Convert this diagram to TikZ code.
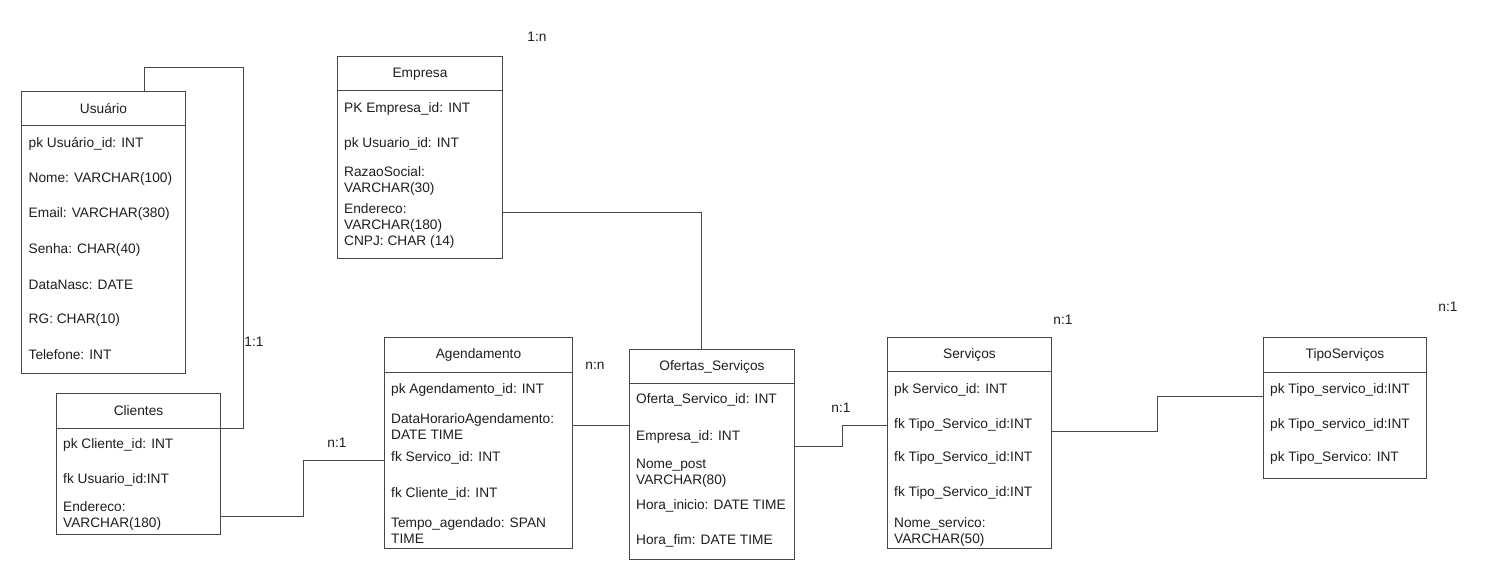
\documentclass[tikz,border=0pt]{standalone}
\usepackage{fontspec}
\setmainfont{Liberation Sans}
\begin{document}
\begin{tikzpicture}[x=1pt,y=-1pt,
  tbl/.style={draw=black!72, line width=1pt, fill=white, anchor=north west, inner sep=0pt},
  tblline/.style={draw=black!72, line width=1pt},
  conn/.style={draw=black!72, line width=1pt},
  titletxt/.style={inner sep=0pt, text=black!88, font=\fontsize{13.7}{16}\selectfont},
  fieldtxt/.style={inner sep=0pt, anchor=west, align=left, text=black!88, font=\fontsize{13.7}{16}\selectfont},
  cardtxt/.style={inner sep=0pt, text=black!88, font=\fontsize{13.7}{16}\selectfont}]
\newcommand\tblhead[2]{\draw[tblline] ([yshift=-#2]#1.north west) -- ([yshift=-#2]#1.north east);}

% canvas
\fill[white] (0,0) rectangle (1492,583);
\useasboundingbox (0,0) rectangle (1492,583);

% ---------- Usuário ----------
\node[tbl, minimum width=164pt, minimum height=282pt] (usuario) at (21,91) {};
\tblhead{usuario}{35pt}
\node[titletxt] (usuario-t) at ([yshift=-17.5pt]usuario.north) {Usuário};
\node[fieldtxt] (usuario-1) at (28.5,144) {pk Usuário\_id: INT};
\node[fieldtxt] (usuario-2) at (28.5,179.2) {Nome: VARCHAR(100)};
\node[fieldtxt] (usuario-3) at (28.5,214.4) {Email: VARCHAR(380)};
\node[fieldtxt] (usuario-4) at (28.5,249.6) {Senha: CHAR(40)};
\node[fieldtxt] (usuario-5) at (28.5,284.8) {DataNasc: DATE};
\node[fieldtxt] (usuario-6) at (28.5,320) {RG: CHAR(10)};
\node[fieldtxt] (usuario-7) at (28.5,355) {Telefone: INT};

% ---------- Empresa ----------
\node[tbl, minimum width=165pt, minimum height=202pt] (empresa) at (337,56) {};
\tblhead{empresa}{35pt}
\node[titletxt] (empresa-t) at ([yshift=-18pt]empresa.north) {Empresa};
\node[fieldtxt] (empresa-1) at (344,109) {PK Empresa\_id: INT};
\node[fieldtxt] (empresa-2) at (344,144) {pk Usuario\_id: INT};
\node[fieldtxt] (empresa-3) at (344,181) {RazaoSocial:\\VARCHAR(30)};
\node[fieldtxt] (empresa-4) at (344,217.5) {Endereco:\\VARCHAR(180)};
\node[fieldtxt] (empresa-5) at (344,242) {CNPJ: CHAR (14)};

% ---------- Clientes ----------
\node[tbl, minimum width=164pt, minimum height=141pt] (clientes) at (56,393) {};
\tblhead{clientes}{35pt}
\node[titletxt] (clientes-t) at ([yshift=-17.5pt]clientes.north) {Clientes};
\node[fieldtxt] (clientes-1) at (63,445) {pk Cliente\_id: INT};
\node[fieldtxt] (clientes-2) at (63,480) {fk Usuario\_id:INT};
\node[fieldtxt] (clientes-3) at (63,516) {Endereco:\\VARCHAR(180)};

% ---------- Agendamento ----------
\node[tbl, minimum width=188pt, minimum height=211pt] (agend) at (384,337) {};
\tblhead{agend}{35pt}
\node[titletxt] (agend-t) at ([yshift=-17.5pt]agend.north) {Agendamento};
\node[fieldtxt] (agend-1) at (391,390) {pk Agendamento\_id: INT};
\node[fieldtxt] (agend-2) at (391,426.5) {DataHorarioAgendamento:\\DATE TIME};
\node[fieldtxt] (agend-3) at (391,458) {fk Servico\_id: INT};
\node[fieldtxt] (agend-4) at (391,494) {fk Cliente\_id: INT};
\node[fieldtxt] (agend-5) at (391,530.5) {Tempo\_agendado: SPAN\\TIME};

% ---------- Ofertas_Serviços ----------
\node[tbl, minimum width=165pt, minimum height=210pt] (ofertas) at (629,349) {};
\tblhead{ofertas}{34.5pt}
\node[titletxt] (ofertas-t) at ([yshift=-17.5pt]ofertas.north) {Ofertas\_Serviços};
\node[fieldtxt] (ofertas-1) at (636,400) {Oferta\_Servico\_id: INT};
\node[fieldtxt] (ofertas-2) at (636,437) {Empresa\_id: INT};
\node[fieldtxt] (ofertas-3) at (636,473) {Nome\_post\\VARCHAR(80)};
\node[fieldtxt] (ofertas-4) at (636,506) {Hora\_inicio: DATE TIME};
\node[fieldtxt] (ofertas-5) at (636,541) {Hora\_fim: DATE TIME};

% ---------- Serviços ----------
\node[tbl, minimum width=164pt, minimum height=211pt] (servicos) at (887,337) {};
\tblhead{servicos}{34pt}
\node[titletxt] (servicos-t) at ([yshift=-17.5pt]servicos.north) {Serviços};
\node[fieldtxt] (servicos-1) at (894,390) {pk Servico\_id: INT};
\node[fieldtxt] (servicos-2) at (894,425) {fk Tipo\_Servico\_id:INT};
\node[fieldtxt] (servicos-3) at (894,458) {fk Tipo\_Servico\_id:INT};
\node[fieldtxt] (servicos-4) at (894,493) {fk Tipo\_Servico\_id:INT};
\node[fieldtxt] (servicos-5) at (894,531.5) {Nome\_servico:\\VARCHAR(50)};

% ---------- TipoServiços ----------
\node[tbl, minimum width=163pt, minimum height=141pt] (tipo) at (1263,337) {};
\tblhead{tipo}{35pt}
\node[titletxt] (tipo-t) at ([yshift=-17.5pt]tipo.north) {TipoServiços};
\node[fieldtxt] (tipo-1) at (1270,390) {pk Tipo\_servico\_id:INT};
\node[fieldtxt] (tipo-2) at (1270,425) {pk Tipo\_servico\_id:INT};
\node[fieldtxt] (tipo-3) at (1270,458) {pk Tipo\_Servico: INT};

% ---------- relationships ----------
\coordinate (k1) at (243,68);
\draw[conn] ([xshift=41pt]usuario.north) |- (k1) |- ([yshift=35.5pt]clientes.east);
\draw[conn] ([yshift=-52.5pt]clientes.east) -- ++(82pt,0) |- ([yshift=-17.5pt]agend.west);
\draw[conn] ([yshift=17.5pt]agend.east) -- ([yshift=17.5pt]agend.east -| ofertas.west);
\draw[conn] ([yshift=-55pt]empresa.east) -| ([xshift=-10.5pt]ofertas.north);
\draw[conn] ([yshift=8pt]ofertas.east) -- ++(47pt,0) |- ([yshift=17.5pt]servicos.west);
\draw[conn] ([yshift=11.5pt]servicos.east) -- ++(105pt,0) |- ([yshift=11.5pt]tipo.west);

% ---------- cardinalities ----------
\node[cardtxt] (card-1n) at (537,37) {1:n};
\node[cardtxt] (card-11) at (254,342) {1:1};
\node[cardtxt] (card-cli) at (337,443) {n:1};
\node[cardtxt] (card-nn) at (595,366) {n:n};
\node[cardtxt] (card-ofe) at (841,408) {n:1};
\node[cardtxt] (card-ser) at (1063,320) {n:1};
\node[cardtxt] (card-tip) at (1448,307) {n:1};
\end{tikzpicture}
\end{document}
